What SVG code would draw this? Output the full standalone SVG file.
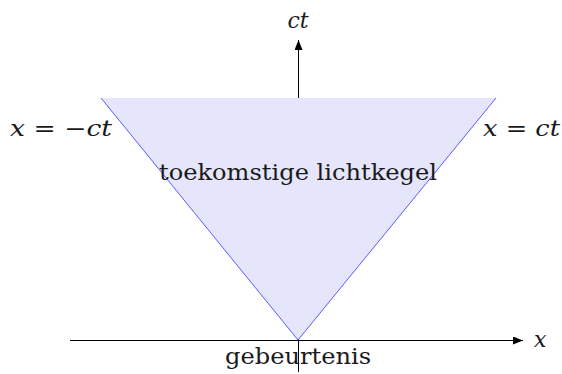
<svg xmlns="http://www.w3.org/2000/svg" width="562" height="374" viewBox="0 0 562 374">
<defs>
<style>
.ax{stroke:#000;stroke-width:1;fill:none}
</style>
<marker id="ah" viewBox="0 0 10 8" refX="10" refY="4" markerWidth="10" markerHeight="8" markerUnits="userSpaceOnUse" orient="auto">
<path d="M0,0 L10,4 L0,8 Z" fill="#000"/>
</marker>
</defs>
<rect width="562" height="374" fill="#fff"/>
<g id="connectors">
<line class="ax" x1="70" y1="340.5" x2="523" y2="340.5" marker-end="url(#ah)"/>
<line class="ax" x1="298.5" y1="372" x2="298.5" y2="40" marker-end="url(#ah)"/>
</g>
<g font-family="DejaVu Serif, serif" font-size="22" fill="#1a1a1a">
<g id="cone">
<polygon points="101,98 496,98 298,340" fill="#e5e5fb"/>
<polyline points="101,98 298,340 496,98" fill="none" stroke="#3333ff" stroke-width="0.8"/>
<text x="298" y="180" text-anchor="middle" textLength="278" lengthAdjust="spacingAndGlyphs">toekomstige lichtkegel</text>
</g>
<g id="labels">
<text x="298" y="28" text-anchor="middle" font-style="italic">ct</text>
<text x="10" y="136" textLength="102" lengthAdjust="spacingAndGlyphs"><tspan font-style="italic">x</tspan> = −<tspan font-style="italic">ct</tspan></text>
<text x="483" y="136" textLength="77" lengthAdjust="spacingAndGlyphs"><tspan font-style="italic">x</tspan> = <tspan font-style="italic">ct</tspan></text>
<text x="534" y="347" font-style="italic">x</text>
<text x="298" y="364" text-anchor="middle" textLength="146" lengthAdjust="spacingAndGlyphs">gebeurtenis</text>
</g>
</g>
</svg>
